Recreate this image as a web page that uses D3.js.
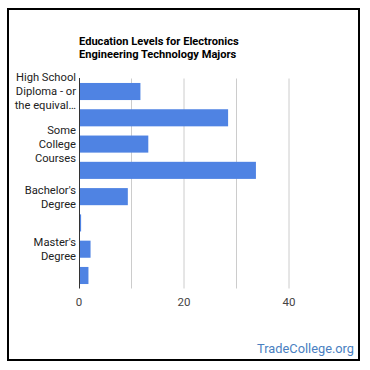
<html>
<head>
<script src="https://d3js.org/d3.v7.min.js"></script>
<style>
  body { margin: 0; background: #fff; }
  text { font-family: Roboto, sans-serif; }
</style>
</head>
<body>
<div id="container"></div>
<script>
var categories = [
    "High School Diploma - or the equivalent (for example, GED)",
    "Post-Secondary Certificate",
    "Some College Courses",
    "Associate's Degree",
    "Bachelor's Degree",
    "Post-Baccalaureate Certificate",
    "Master's Degree",
    "Post-Master's Certificate"
];
var values = [11.7, 28.4, 13.2, 33.7, 9.3, 0.4, 2.2, 1.8];
var tickValues = [0, 20, 40];
var gridValues = [10, 20, 30, 40];
// only every other category gets a label, wrapped the way the original does
var shownLabels = {
    0: ["High School", "Diploma - or", "the equival\u2026"],
    2: ["Some", "College", "Courses"],
    4: ["Bachelor's", "Degree"],
    6: ["Master's", "Degree"]
};
var titleLines = ["Education Levels for Electronics", "Engineering Technology Majors"];

var width = 370, height = 370;
var svg = d3.select("#container").append("svg")
    .attr("width", width)
    .attr("height", height);

svg.append("rect")
    .attr("x", 8).attr("y", 9)
    .attr("width", 351).attr("height", 351)
    .style("fill", "none")
    .style("stroke", "#000")
    .style("stroke-width", 2);

var x = d3.scaleLinear().domain([0, 40]).range([79, 289]);
var y = d3.scaleBand().domain(categories).range([78.5, 288.5]).paddingInner(0.35).paddingOuter(0.17);

svg.selectAll(".title")
    .data(titleLines)
    .enter().append("text")
    .attr("x", 79)
    .attr("y", function(d, i) { return 45 + i * 12.5; })
    .style("font-size", "11.1px")
    .style("font-weight", "bold")
    .style("fill", "#000")
    .text(function(d) { return d; });

svg.selectAll(".grid")
    .data(gridValues)
    .enter().append("line")
    .attr("x1", function(d) { return x(d); })
    .attr("x2", function(d) { return x(d); })
    .attr("y1", 78.5).attr("y2", 288.5)
    .style("stroke", "#ccc")
    .style("stroke-width", 1);

svg.selectAll(".bar")
    .data(values)
    .enter().append("rect")
    .attr("x", x(0))
    .attr("y", function(d, i) { return y(categories[i]); })
    .attr("width", function(d) { return x(d) - x(0); })
    .attr("height", y.bandwidth())
    .style("fill", "#4f83e3");

svg.append("line")
    .attr("x1", x(0) + 0.5).attr("x2", x(0) + 0.5)
    .attr("y1", 78).attr("y2", 288.5)
    .style("stroke", "#333")
    .style("stroke-width", 1);

var labels = svg.append("g");
categories.forEach(function(c, i) {
    var lines = shownLabels[i];
    if (!lines) return;
    var cy = y(c) + y.bandwidth() / 2;
    var top = cy - (lines.length - 1) * 14 / 2;
    lines.forEach(function(t, j) {
        labels.append("text")
            .attr("x", 76)
            .attr("y", top + j * 14)
            .attr("dy", "0.35em")
            .attr("text-anchor", "end")
            .style("font-size", "11.2px")
            .style("fill", "#222")
            .text(t);
    });
});

svg.selectAll(".tick")
    .data(tickValues)
    .enter().append("text")
    .attr("x", function(d) { return x(d); })
    .attr("y", 306)
    .attr("text-anchor", "middle")
    .style("font-size", "11.5px")
    .style("fill", "#444")
    .text(function(d) { return d; });

svg.append("text")
    .attr("x", 354)
    .attr("y", 353)
    .attr("text-anchor", "end")
    .style("font-size", "12.8px")
    .style("fill", "#4a7fc1")
    .text("TradeCollege.org");
</script>
</body>
</html>
